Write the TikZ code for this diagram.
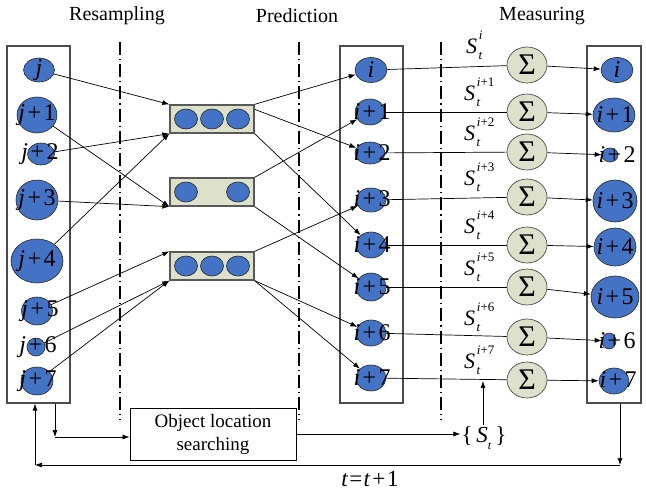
\documentclass[tikz,border=0pt]{standalone}
\usepackage{fontspec}
\setmainfont{Liberation Serif}
\usetikzlibrary{shapes.geometric,arrows.meta}
\definecolor{nodeblue}{HTML}{4472C4}
\definecolor{pale}{HTML}{DDE1CB}
\newcommand{\lbl}[2]{\textit{#1}\hspace{0.1em}+\hspace{0.1em}#2}
\newcommand{\Slab}[1]{\textit{S}\rlap{\raisebox{-0.3em}{\fontsize{13}{13}\selectfont\hspace{0.1em}\textit{t}}}\hspace{0.08em}\raisebox{0.6em}{\fontsize{13}{13}\selectfont #1}}
\begin{document}
\begin{tikzpicture}[x=1pt,y=-1pt,
  bc/.style={ellipse, draw=black!85, line width=0.6pt, fill=nodeblue, inner sep=0pt},
  lab/.style={font=\fontsize{24}{24}\selectfont, inner sep=0pt},
  sig/.style={ellipse, draw=black!70, line width=0.7pt, fill=pale, minimum width=40pt, minimum height=36pt, inner sep=0pt, font=\fontsize{30}{30}\selectfont},
  grp/.style={rectangle, draw=black!65, line width=1.3pt, fill=pale, minimum width=84pt, minimum height=28pt, inner sep=0pt},
  ic/.style={ellipse, draw=black!85, line width=0.6pt, fill=nodeblue, inner sep=0pt, minimum width=23pt, minimum height=20pt},
  col/.style={rectangle, draw=black!70, line width=1.1pt, inner sep=0pt, minimum height=357pt},
  arr/.style={-{Latex[length=7pt,width=5pt]}, line width=0.7pt},
  ln/.style={line width=0.7pt},
  dd/.style={line width=1.4pt, dash pattern=on 13pt off 4pt on 1.2pt off 4pt},
  title/.style={font=\fontsize{20}{20}\selectfont, inner sep=0pt},
  slab/.style={anchor=base west, font=\fontsize{22}{22}\selectfont, inner sep=0pt}]
\useasboundingbox (0,0) rectangle (646,491);

% titles
\node[title] (tR) at (117,16) {Resampling};
\node[title] (tP) at (297,16) {Prediction};
\node[title] (tM) at (542,16) {Measuring};

% dash-dot separators
\draw[dd] (120,42) -- (120,420);
\draw[dd] (299,42) -- (299,420);
\draw[dd] (441,42) -- (441,420);

% column boxes
\node[col, minimum width=63pt] (L) at (38.5,224.5) {};
\node[col, minimum width=63pt] (M) at (371.5,224.5) {};
\node[col, minimum width=54pt] (R) at (614,224.5) {};

% left column
\node[bc, minimum width=31pt, minimum height=24pt] (j0) at (39,70) {};
\node[lab] (j0t) at (39,70) {\textit{j}};
\node[bc, minimum width=40pt, minimum height=36pt] (j1) at (37,115) {};
\node[lab] (j1t) at (37,115) {\lbl{j}{1}};
\node[bc, minimum width=27pt, minimum height=22pt] (j2) at (41,154) {};
\node[lab] (j2t) at (40,154) {\lbl{j}{2}};
\node[bc, minimum width=42pt, minimum height=40pt] (j3) at (37,200) {};
\node[lab] (j3t) at (37,200) {\lbl{j}{3}};
\node[bc, minimum width=52pt, minimum height=44pt] (j4) at (37,261) {};
\node[lab] (j4t) at (37,261) {\lbl{j}{4}};
\node[bc, minimum width=31pt, minimum height=28pt] (j5) at (37,311) {};
\node[lab] (j5t) at (40,311) {\lbl{j}{5}};
\node[bc, minimum width=18pt, minimum height=18pt] (j6) at (36,347) {};
\node[lab] (j6t) at (38,347) {\lbl{j}{6}};
\node[bc, minimum width=32pt, minimum height=28pt] (j7) at (37,381) {};
\node[lab] (j7t) at (38,381) {\lbl{j}{7}};

% group boxes
\node[grp] (b1) at (212,119) {};
\node[ic] (b1a) at (186,119) {};
\node[ic] (b1b) at (212,119) {};
\node[ic] (b1c) at (238,119) {};
\node[grp] (b2) at (212,192) {};
\node[ic] (b2a) at (186,192) {};
\node[ic] (b2c) at (238,192) {};
\node[grp] (b3) at (212,266) {};
\node[ic] (b3a) at (186,266) {};
\node[ic] (b3b) at (212,266) {};
\node[ic] (b3c) at (238,266) {};

% middle column
\node[bc, minimum width=32pt, minimum height=25pt] (i0) at (371,70) {};
\node[lab] (i0t) at (371,70) {\textit{i}};
\node[bc, minimum width=30pt, minimum height=26pt] (i1) at (370,112) {};
\node[lab] (i1t) at (372,112) {\lbl{i}{1}};
\node[bc, minimum width=30pt, minimum height=22pt] (i2) at (370,153) {};
\node[lab] (i2t) at (372,153) {\lbl{i}{2}};
\node[bc, minimum width=30pt, minimum height=24pt] (i3) at (371,200) {};
\node[lab] (i3t) at (372,199) {\lbl{i}{3}};
\node[bc, minimum width=30pt, minimum height=26pt] (i4) at (371,245) {};
\node[lab] (i4t) at (372,245) {\lbl{i}{4}};
\node[bc, minimum width=30pt, minimum height=28pt] (i5) at (371,287) {};
\node[lab] (i5t) at (372,287) {\lbl{i}{5}};
\node[bc, minimum width=30pt, minimum height=26pt] (i6) at (371,333) {};
\node[lab] (i6t) at (372,333) {\lbl{i}{6}};
\node[bc, minimum width=30pt, minimum height=26pt] (i7) at (371,378) {};
\node[lab] (i7t) at (372,378) {\lbl{i}{7}};

% sigma nodes
\node[sig] (s0) at (527,65) {Σ};
\node[sig] (s1) at (527,112) {Σ};
\node[sig] (s2) at (527,152) {Σ};
\node[sig] (s3) at (527,197) {Σ};
\node[sig] (s4) at (527,245) {Σ};
\node[sig] (s5) at (527,287) {Σ};
\node[sig] (s6) at (527,337) {Σ};
\node[sig] (s7) at (527,380) {Σ};

% S labels
\node[slab] (l0) at (466,53) {\Slab{\textit{i}}};
\node[slab] (l1) at (464,100) {\Slab{\textit{i}+1}};
\node[slab] (l2) at (464,140) {\Slab{\textit{i}+2}};
\node[slab] (l3) at (464,185) {\Slab{\textit{i}+3}};
\node[slab] (l4) at (464,233) {\Slab{\textit{i}+4}};
\node[slab] (l5) at (464,275) {\Slab{\textit{i}+5}};
\node[slab] (l6) at (464,325) {\Slab{\textit{i}+6}};
\node[slab] (l7) at (464,368) {\Slab{\textit{i}+7}};

% right column
\node[bc, minimum width=32pt, minimum height=25pt] (r0) at (617,70) {};
\node[lab] (r0t) at (617,70) {\textit{i}};
\node[bc, minimum width=42pt, minimum height=34pt] (r1) at (614,115) {};
\node[lab] (r1t) at (615,115) {\lbl{i}{1}};
\node[bc, minimum width=16pt, minimum height=14pt] (r2) at (610,155) {};
\node[lab] (r2t) at (617,155) {\lbl{i}{2}};
\node[bc, minimum width=44pt, minimum height=42pt] (r3) at (615,201) {};
\node[lab] (r3t) at (615,201) {\lbl{i}{3}};
\node[bc, minimum width=42pt, minimum height=38pt] (r4) at (615,247) {};
\node[lab] (r4t) at (615,247) {\lbl{i}{4}};
\node[bc, minimum width=48pt, minimum height=42pt] (r5) at (615,297) {};
\node[lab] (r5t) at (615,297) {\lbl{i}{5}};
\node[bc, minimum width=14pt, minimum height=16pt] (r6) at (609,341) {};
\node[lab] (r6t) at (617,341) {\lbl{i}{6}};
\node[bc, minimum width=30pt, minimum height=26pt] (r7) at (614,381) {};
\node[lab] (r7t) at (618,380) {\lbl{i}{7}};

% bottom nodes
\node[draw, line width=0.8pt, minimum width=166pt, minimum height=52pt, align=center, inner sep=0pt, font=\fontsize{19}{23}\selectfont] (obj) at (213,434) {Object location\\searching};
\node[font=\fontsize{23}{23}\selectfont, inner sep=1pt] (st) at (484,438) {\{\,\textit{S}\raisebox{-0.3em}{\fontsize{12}{12}\selectfont\textit{t}}\,\}};
\node[font=\fontsize{23}{23}\selectfont, inner sep=0pt] (tt) at (370,479) {\textit{t}\hspace{0.05em}=\hspace{0.05em}\textit{t}\hspace{0.08em}+\hspace{0.08em}1};

% resampling connectors
\draw[arr] (j0) -- (b1.north west);
\draw[arr] (j2) -- (b1.south west);
\draw[arr] (j4) -- (b1.south west);
\draw[arr] (j1) -- (b2.south west);
\draw[arr] (j3) -- (b2.south west);
\draw[arr] (j5) -- (b3.north west);
\draw[arr] (j6) -- (b3.south west);
\draw[arr] (j7) -- (b3.south west);

% prediction connectors
\draw[arr] (b1.north east) -- (i0);
\draw[arr] ([yshift=-5pt]b1.north east) -- (i2);
\draw[arr] (b1.south east) -- (i4);
\draw[arr] (b2.north east) -- (i1);
\draw[arr] (b2.south east) -- (i5);
\draw[arr] (b3.north east) -- (i3);
\draw[arr] (b3.south east) -- (i6);
\draw[arr] (b3.south east) -- (i7);

% measuring connectors
\foreach \k in {0,...,7}{
  \draw[ln] (i\k) -- (s\k);
  \draw[arr] (s\k) -- (r\k);
}

% bottom loop
\coordinate (c1) at (55,437);
\draw[arr] (c1 |- L.south) -- (c1);
\draw[arr] (c1) -- (c1 -| obj.west);
\draw[arr] (obj.east) -- (obj.east -| st.west);
\coordinate (hit) at (483,381);
\draw[arr] (st.north -| hit) -- (hit);
\coordinate (c2) at (620,465);
\coordinate (c3) at (35,465);
\draw[arr] (c2 |- R.south) -- (c2);
\draw[arr] (c2) -- (c3);
\draw[arr] (c3) -- (c3 |- L.south);
\end{tikzpicture}
\end{document}
